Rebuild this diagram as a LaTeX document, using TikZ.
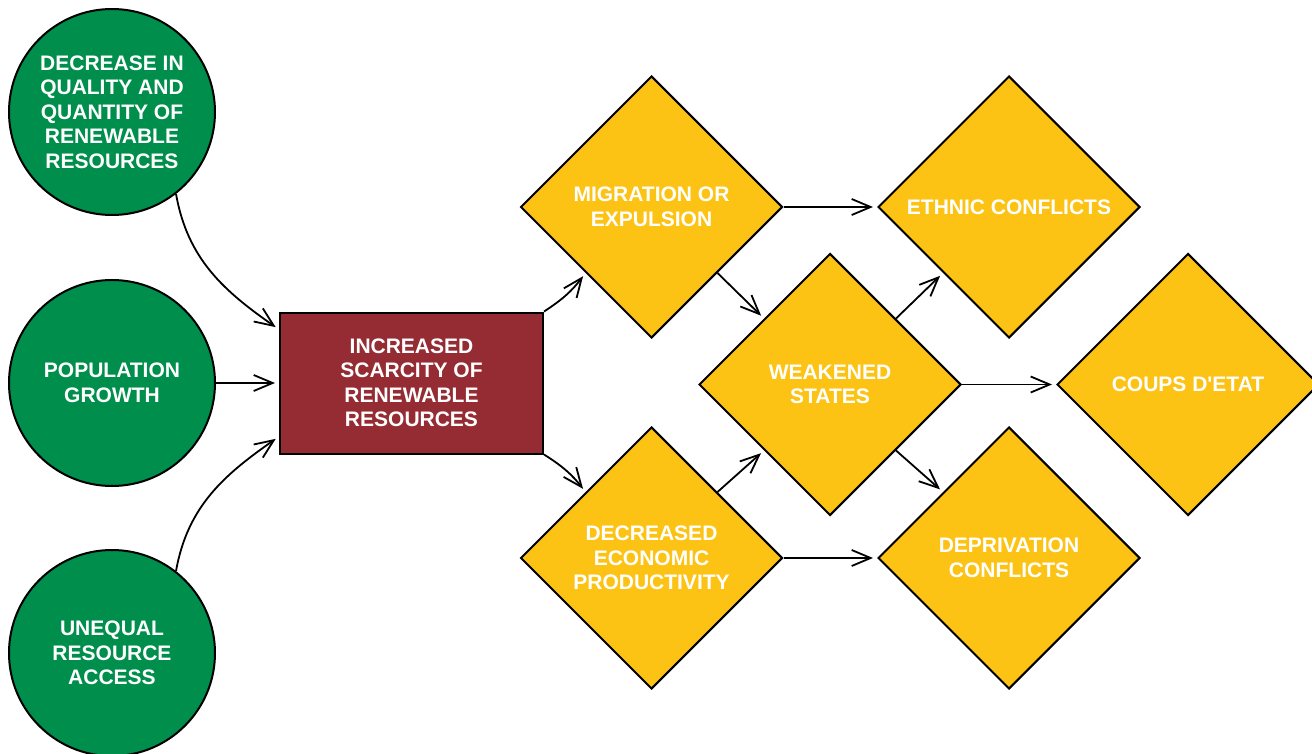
\documentclass[tikz,border=0pt]{standalone}
\usepackage{fontspec}
\setmainfont{Liberation Sans}
\usetikzlibrary{shapes.geometric, positioning, arrows.meta}
\definecolor{causegreen}{RGB}{0,142,76}
\definecolor{scarcityred}{RGB}{150,44,51}
\definecolor{effectyellow}{RGB}{252,195,20}

\begin{document}
\begin{tikzpicture}[x=1pt,y=-1pt,on grid,
    >={Straight Barb[length=19pt,width=16pt]},
    every node/.style={text=white,font=\fontsize{21}{24.5}\selectfont\bfseries,align=center},
    cause/.style={circle,draw=black,line width=2pt,fill=causegreen,minimum size=206pt,inner sep=0pt},
    scarcity/.style={rectangle,draw=black,line width=2pt,fill=scarcityred,minimum width=263pt,minimum height=141pt},
    effect/.style={diamond,aspect=1,draw=black,line width=2pt,fill=effectyellow,minimum size=262pt,inner sep=0pt}]
    \useasboundingbox (0,0) rectangle (1312,754);

    \node[cause] (quality) at (112,112) {DECREASE IN\\QUALITY AND\\QUANTITY OF\\RENEWABLE\\RESOURCES};
    \node[cause] (growth) [below=271pt of quality] {POPULATION\\GROWTH};
    \node[cause] (access) [below=270pt of growth] {UNEQUAL\\RESOURCE\\ACCESS};
    \node[scarcity] (scarcity) [right=299.5pt of growth] {INCREASED\\SCARCITY OF\\RENEWABLE\\RESOURCES};

    \node[effect] (migration) at (651.5,207) {MIGRATION OR\\EXPULSION};
    \node[effect] (productivity) [below=351pt of migration] {DECREASED\\ECONOMIC\\PRODUCTIVITY};
    \node[effect] (weak) at (830,384.5) {WEAKENED\\STATES};
    \node[effect] (ethnic) [right=357.5pt of migration] {ETHNIC CONFLICTS};
    \node[effect] (deprivation) [right=357.5pt of productivity] {DEPRIVATION\\CONFLICTS};
    \node[effect] (coups) [right=358pt of weak] {COUPS D\textquotesingle ETAT};

    \path[->, line width=1.8pt, shorten >=4pt]
    (quality.-52) edge [out=-80, in=145] (scarcity.158)
    (growth) edge (scarcity)
    (access.52) edge [out=80, in=-145] (scarcity.202)
    (scarcity.north east) edge [bend right=10] (migration.south west)
    (scarcity.south east) edge [bend left=10] (productivity.north west)
    (migration) edge (ethnic)
    (migration.south east) edge (weak.north west)
    (productivity.north east) edge (weak.south west)
    (productivity) edge (deprivation)
    (weak.north east) edge (ethnic.south west)
    (weak) edge (coups)
    (weak.south east) edge (deprivation.north west)
    ;
\end{tikzpicture}
\end{document}
